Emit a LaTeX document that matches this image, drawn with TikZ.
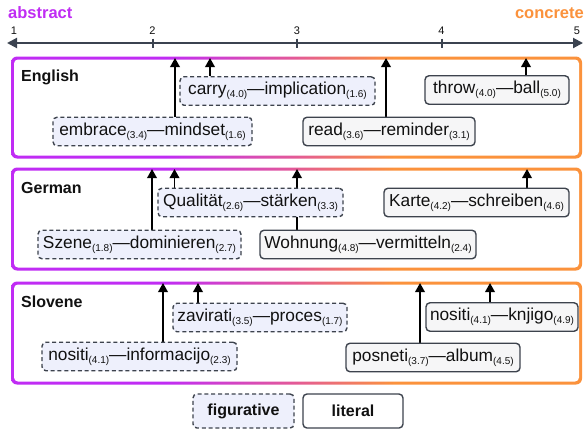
\documentclass[tikz,border=0pt]{standalone}
\usepackage{fontspec}
\setmainfont{Liberation Sans}
\usetikzlibrary{arrows.meta}
\definecolor{purp}{HTML}{C02CF4}
\definecolor{pinkc}{HTML}{E2589A}
\definecolor{orng}{HTML}{FB923C}
\definecolor{boxline}{HTML}{3D434D}
\definecolor{figfill}{HTML}{EEF0FC}
\definecolor{litfill}{HTML}{F6F6F7}
\definecolor{axiscol}{HTML}{3B4350}
\definecolor{txt}{HTML}{111111}
\pgfdeclarehorizontalshading{panelgrad}{100bp}{color(0bp)=(purp); color(38.5bp)=(purp); color(49.5bp)=(pinkc); color(58.6bp)=(orng); color(100bp)=(orng)}
\pgfdeclarelayer{bg}
\pgfdeclarelayer{mid}
\pgfsetlayers{bg,mid,main}
\newcommand{\lsub}[1]{\raisebox{-0.35ex}{\fontsize{10}{10}\selectfont(#1)}}
\tikzset{
  pair/.style={draw=boxline, line width=1.4pt, rounded corners=4pt, inner sep=0pt,
    minimum height=28.5pt, text=txt, font=\fontsize{17.3}{20}\selectfont},
  fig/.style={pair, fill=figfill, dash pattern=on 4pt off 2.8pt},
  lit/.style={pair, fill=litfill},
  conn/.style={draw=black, line width=1.8pt, -{Triangle[length=9pt,width=9.5pt]}},
  lang/.style={anchor=west, font=\bfseries\fontsize{16}{19}\selectfont, text=txt, inner sep=0pt},
  ticklab/.style={font=\fontsize{11}{13}\selectfont, text=txt, inner sep=0pt},
  axisline/.style={draw=axiscol, line width=2pt},
}
\begin{document}
\begin{tikzpicture}[x=1pt,y=-1pt]
\useasboundingbox (0,0) rectangle (585,432);
% axis
\node[anchor=west, font=\bfseries\fontsize{16.5}{19}\selectfont, text=purp, inner sep=0pt] (abs) at (8,13) {abstract};
\node[anchor=east, font=\bfseries\fontsize{16.5}{19}\selectfont, text=orng, inner sep=0pt] (con) at (584,13) {concrete};
\coordinate (axl) at (7,43);
\coordinate (axr) at (583,43);
\draw[axisline, {Triangle[length=10pt,width=10pt]}-{Triangle[length=10pt,width=10pt]}] (axl) -- (axr);
\foreach \x in {152.5,297,441.5} \draw[axiscol, line width=2pt] (\x,38.5) -- (\x,48);
\node[ticklab] (t1) at (14,31) {1};
\node[ticklab] (t2) at (152.5,31) {2};
\node[ticklab] (t3) at (297,31) {3};
\node[ticklab] (t4) at (441.5,31) {4};
\node[ticklab] (t5) at (577,31) {5};
% panels
\begin{pgfonlayer}{bg}
\fill[white] (0,0) rectangle (585,432);
\foreach \ya/\yb in {56.5/158.5, 167.5/270.5, 281.5/384.5}{
  \shade[shading=panelgrad, rounded corners=6pt] (11,\ya) rectangle (582,\yb);
  \fill[white, rounded corners=4pt] (14,\ya+3) rectangle (579,\yb-3);
}
\end{pgfonlayer}
\node[lang] (en) at (21,77) {English};
\node[lang] (de) at (21,188) {German};
\node[lang] (sl) at (21,302) {Slovene};
% English
\node[fig, minimum width=195pt] (carry) at (277.5,91) {carry\lsub{4.0}—implication\lsub{1.6}};
\node[fig, minimum width=199pt] (embrace) at (152.5,131.5) {embrace\lsub{3.4}—mindset\lsub{1.6}};
\node[lit, minimum width=172pt] (read) at (389,131.5) {read\lsub{3.6}—reminder\lsub{3.1}};
\node[lit, minimum width=144pt] (throw) at (497,90) {throw\lsub{4.0}—ball\lsub{5.0}};
\coordinate (aemb) at (175,58);
\coordinate (acar) at (210,58);
\coordinate (area) at (386,58);
\coordinate (athr) at (526,58);
% German
\node[fig, minimum width=185pt] (qual) at (250.5,202.5) {Qualität\lsub{2.6}—stärken\lsub{3.3}};
\node[fig, minimum width=203pt] (szene) at (139.5,244.5) {Szene\lsub{1.8}—dominieren\lsub{2.7}};
\node[lit, minimum width=216pt] (wohn) at (368,244.5) {Wohnung\lsub{4.8}—vermitteln\lsub{2.4}};
\node[lit, minimum width=185pt] (karte) at (476.5,202.5) {Karte\lsub{4.2}—schreiben\lsub{4.6}};
\coordinate (asze) at (152,169);
\coordinate (aqua) at (174.5,169);
\coordinate (awoh) at (297,169);
\coordinate (akar) at (527,169);
% Slovene
\node[fig, minimum width=174pt] (zav) at (260,317.5) {zavirati\lsub{3.5}—proces\lsub{1.7}};
\node[fig, minimum width=195pt] (info) at (139.5,356.5) {nositi\lsub{4.1}—informacijo\lsub{2.3}};
\node[lit, minimum width=174pt] (posn) at (433,357.5) {posneti\lsub{3.7}—album\lsub{4.5}};
\node[lit, minimum width=152pt] (knj) at (502,317) {nositi\lsub{4.1}—knjigo\lsub{4.9}};
\coordinate (ainf) at (163,283);
\coordinate (azav) at (198,283);
\coordinate (apos) at (420,283);
\coordinate (aknj) at (490,283);
% connectors
\begin{pgfonlayer}{mid}
\draw[conn] (aemb |- embrace.north) -- (aemb);
\draw[conn] (acar |- carry.north) -- (acar);
\draw[conn] (area |- read.north) -- (area);
\draw[conn] (athr |- throw.north) -- (athr);
\draw[conn] (asze |- szene.north) -- (asze);
\draw[conn] (aqua |- qual.north) -- (aqua);
\draw[conn] (awoh |- wohn.north) -- (awoh);
\draw[conn] (akar |- karte.north) -- (akar);
\draw[conn] (ainf |- info.north) -- (ainf);
\draw[conn] (azav |- zav.north) -- (azav);
\draw[conn] (apos |- posn.north) -- (apos);
\draw[conn] (aknj |- knj.north) -- (aknj);
\end{pgfonlayer}
% legend
\node[fig, minimum width=101pt, minimum height=34pt, font=\bfseries\fontsize{16}{19}\selectfont] (lfig) at (243.5,411) {figurative};
\node[lit, fill=white, minimum width=100pt, minimum height=34pt, font=\bfseries\fontsize{16}{19}\selectfont] (llit) at (353,411) {literal};
\end{tikzpicture}
\end{document}
